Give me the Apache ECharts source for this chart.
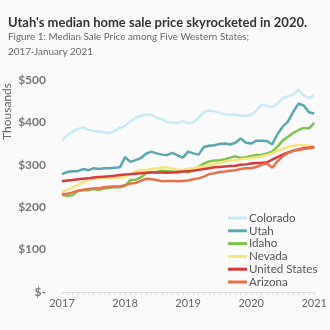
<!DOCTYPE html>
<html><head><meta charset="utf-8">
<script src="https://cdn.jsdelivr.net/npm/echarts@6/dist/echarts.min.js"></script>
<style>html,body{margin:0;padding:0;background:#fafafa;}#c{width:330px;height:330px;}</style>
</head><body><div id="c"></div>
<script>
const months = [];
for (let y = 2017; y <= 2021; y++) { for (let m = 1; m <= 12; m++) { if (y === 2021 && m > 1) break; months.push(y + '-' + (m < 10 ? '0' + m : m)); } }
const yearLabels = ['2017', '2018', '2019', '2020', '2021'];
const yTicks = [0, 100, 200, 300, 400, 500];

const colorado = [357,370,378,384,388,383,380,379,376,375,380,387,392,402,411,415,418,419,411,408,400,400,398,403,398,400,411,424,428,426,423,419,418,418,416,415,418,428,442,439,436,444,457,461,466,477,464,458,464];
const utah = [278,283,285,285,290,287,292,290,292,292,293,294,318,307,311,316,326,331,327,324,323,328,322,317,331,327,324,342,345,346,349,350,348,352,362,352,350,357,357,356,348,372,390,402,425,444,440,424,421];
const idaho = [229,227,228,238,240,240,243,241,244,246,247,247,250,264,265,270,280,283,283,286,285,284,282,285,282,288,295,303,308,310,311,313,317,320,316,318,321,323,324,327,331,343,357,366,375,382,387,386,399];
const nevada = [236,241,246,252,258,264,267,268,269,269,269,270,272,278,284,287,288,290,291,294,294,291,288,288,291,292,294,296,299,302,304,307,310,311,313,314,316,318,320,323,327,333,337,342,345,347,346,345,344];
const unitedStates = [261,263,264,266,267,268,270,271,272,273,274,276,277,278,279,280,281,282,282,282,281,282,283,284,285,286,288,290,292,294,295,296,297,298,300,301,303,304,304,306,312,318,324,329,333,336,339,340,342];
const arizona = [231,232,235,239,241,243,244,245,247,248,249,249,252,256,257,262,267,266,264,261,262,262,261,262,263,266,268,272,278,280,283,284,286,287,290,292,292,295,300,303,293,308,320,328,333,335,337,339,341];

const seriesNames = ['Colorado','Utah','Idaho','Nevada','United States','Arizona'];
const seriesData = [colorado, utah, idaho, nevada, unitedStates, arizona];
const colors = ['#c6e9f8','#5aa6b1','#7dc24b','#f8e27c','#d9393b','#e9704b'];

const chart = echarts.init(document.getElementById('c'));
chart.setOption({
  backgroundColor: '#fafafa',
  animation: false,
  title: [
    { text: "Utah's median home sale price skyrocketed in 2020.", left: 3, top: 11,
      textStyle: { fontFamily: 'Lato', fontWeight: 'bold', fontSize: 13, color: '#333' } },
    { text: 'Figure 1: Median Sale Price among Five Western States;\n2017-January 2021', left: 3, top: 24,
      textStyle: { fontFamily: 'Lato', fontWeight: 'normal', fontSize: 9.9, color: '#666', lineHeight: 15.5 } }
  ],
  graphic: [{ type: 'text', left: 1, top: 83, rotation: Math.PI / 2,
    style: { text: 'Thousands', font: '12px Lato', fill: '#666' } }],
  legend: {
    orient: 'vertical', left: 223, top: 207, itemWidth: 19, itemHeight: 3, itemGap: 0.8,
    icon: 'rect',
    textStyle: { fontFamily: 'Lato', fontSize: 11.6, color: '#555', lineHeight: 12, padding: [0,0,0,-3] },
    data: seriesNames
  },
  grid: { left: 62, right: 13, top: 80, bottom: 38 },
  xAxis: {
    type: 'category', data: months, boundaryGap: false,
    axisLine: { lineStyle: { color: '#ddd' } },
    axisTick: { show: true, interval: 0, length: 3, lineStyle: { color: '#ddd' } },
    axisLabel: { interval: (i) => i % 12 === 0, formatter: (v) => v.slice(0,4), margin: 6,
      fontFamily: 'Lato', fontSize: 11, color: '#666' }
  },
  yAxis: {
    type: 'value', min: 0, max: 500, interval: 100,
    splitLine: { show: false }, axisLine: { show: false }, axisTick: { show: false },
    axisLabel: { formatter: (v) => v === 0 ? '$-' : '$' + v, margin: 16,
      fontFamily: 'Lato', fontSize: 12, fontWeight: 'bold', color: '#777' }
  },
  series: seriesNames.map((n, k) => ({
    name: n, type: 'line', data: seriesData[k], showSymbol: false, symbol: 'none',
    lineStyle: { width: 2.5, color: colors[k] }, itemStyle: { color: colors[k] }
  }))
});
</script></body></html>
